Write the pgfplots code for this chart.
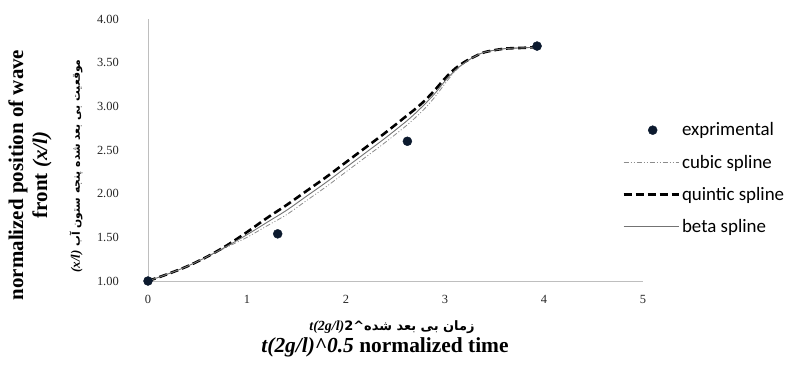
\documentclass[border=0pt]{standalone}
\usepackage{fontspec}
\setmainfont{Liberation Serif}
\newfontfamily\persianfont[Script=Arabic]{DejaVu Sans}
\newfontfamily\legendfont{Carlito}
\usepackage{pgfplots}
\pgfplotsset{compat=1.18}
\TeXXeTstate=1
\definecolor{dotblue}{RGB}{12,26,46}
\definecolor{axgray}{RGB}{190,190,190}
\definecolor{cubicgray}{RGB}{140,140,140}
\definecolor{betagray}{RGB}{115,115,115}
\pgfplotsset{
  linelegend/.style={legend image code/.code={\path[draw=none,fill=none] (0bp,0bp) -- (55bp,0bp); \draw[##1] (0bp,0bp) -- (55bp,0bp);}},
  dotlegend/.style={legend image code/.code={\path[draw=none,fill=none] (0bp,0bp) -- (55bp,0bp); \draw[mark repeat=2,mark phase=2,##1] plot coordinates {(0bp,0bp) (29bp,0bp) (58bp,0bp)};}},
}
\begin{document}
\begin{tikzpicture}[x=1bp,y=1bp]
\path (0,0) rectangle (793,368);
\begin{axis}[
  at={(148bp,87bp)}, anchor=south west,
  scale only axis, width=495bp, height=262bp,
  xmin=0, xmax=5, ymin=1, ymax=4,
  enlargelimits=false, clip=false,
  axis x line=bottom, axis y line=left,
  axis line style={-, draw=axgray, line width=1bp},
  xtick={0,1,2,3,4,5}, ytick={1,1.5,2,2.5,3,3.5,4},
  major tick length=0pt,
  /pgf/number format/assume math mode=true,
  ticklabel style={font=\fontsize{12.5}{14}\selectfont, text=black!85},
  yticklabel style={anchor=east, inner sep=0pt, xshift=-29bp,
    /pgf/number format/fixed, /pgf/number format/fixed zerofill,
    /pgf/number format/precision=2},
  xticklabel style={anchor=north, inner sep=0pt, yshift=-14bp},
  legend style={at={(0.958,0.612)}, anchor=north west, draw=none, fill=none,
    font=\legendfont\fontsize{19}{21}\selectfont, inner sep=0pt, row sep=13.5bp,
    nodes={inner sep=2bp}},
  legend cell align=left,
  linelegend,
]
\addplot[only marks, mark=*, mark size=4.5bp, draw=dotblue, fill=dotblue, dotlegend]
  coordinates {(0,1.00) (1.31,1.54) (2.62,2.60) (3.93,3.69)};
\addlegendentry{exprimental}
\addplot[cubicgray, line width=0.8bp, smooth, dash pattern=on 5bp off 2bp on 1bp off 2bp on 1bp off 2bp]
  coordinates {(0,1.00) (0.2,1.08) (0.4,1.17) (0.6,1.28) (0.8,1.39) (1.0,1.50) (1.2,1.63) (1.4,1.76) (1.6,1.92) (1.8,2.08) (2.0,2.25) (2.2,2.42) (2.4,2.59) (2.6,2.77) (2.7,2.87) (2.8,2.98) (2.9,3.11) (3.0,3.26) (3.1,3.40) (3.2,3.50) (3.3,3.57) (3.4,3.62) (3.6,3.66) (3.8,3.67) (3.93,3.68)};
\addlegendentry{cubic spline}
\addplot[black, line width=2.6bp, smooth, dash pattern=on 8bp off 4bp]
  coordinates {(0,1.00) (0.2,1.08) (0.4,1.17) (0.6,1.28) (0.8,1.41) (1.0,1.56) (1.2,1.72) (1.4,1.87) (1.6,2.03) (1.8,2.19) (2.0,2.36) (2.2,2.53) (2.4,2.70) (2.6,2.88) (2.7,2.97) (2.8,3.07) (2.9,3.19) (3.0,3.32) (3.1,3.43) (3.2,3.51) (3.3,3.57) (3.4,3.62) (3.6,3.66) (3.8,3.67) (3.93,3.68)};
\addlegendentry{quintic spline}
\addplot[betagray, line width=0.9bp, smooth]
  coordinates {(0,1.00) (0.2,1.08) (0.4,1.17) (0.6,1.28) (0.8,1.40) (1.0,1.53) (1.2,1.67) (1.4,1.81) (1.6,1.97) (1.8,2.13) (2.0,2.30) (2.2,2.47) (2.4,2.64) (2.6,2.82) (2.7,2.92) (2.8,3.03) (2.9,3.15) (3.0,3.29) (3.1,3.41) (3.2,3.50) (3.3,3.57) (3.4,3.62) (3.6,3.66) (3.8,3.67) (3.93,3.68)};
\addlegendentry{beta spline}
\end{axis}
% axis titles
\node[rotate=90, align=center, font=\fontsize{21}{24}\selectfont\bfseries] at (30,193)
  {normalized position of wave\\front \textit{(x/l)}};
\node[rotate=90, font=\persianfont\bfseries\fontsize{10.8}{13}\selectfont] at (76,202)
  {\beginR موقعیت بی بعد شده پنجه ستون آب \beginL{\rmfamily\itshape\fontsize{13}{14}\selectfont (x/l)}\endL\endR};
\node[anchor=base, font=\fontsize{13}{15}\selectfont] at (392,38)
  {{\rmfamily\bfseries\itshape\fontsize{14}{15}\selectfont t(2g/l)}{\persianfont\bfseries\textasciicircum 2\beginR زمان بی بعد شده\endR}};
\node[anchor=base, font=\fontsize{21.5}{25}\selectfont\bfseries] at (385,16)
  {\textit{t(2g/l)\textasciicircum 0.5} normalized time};
\end{tikzpicture}
\end{document}
